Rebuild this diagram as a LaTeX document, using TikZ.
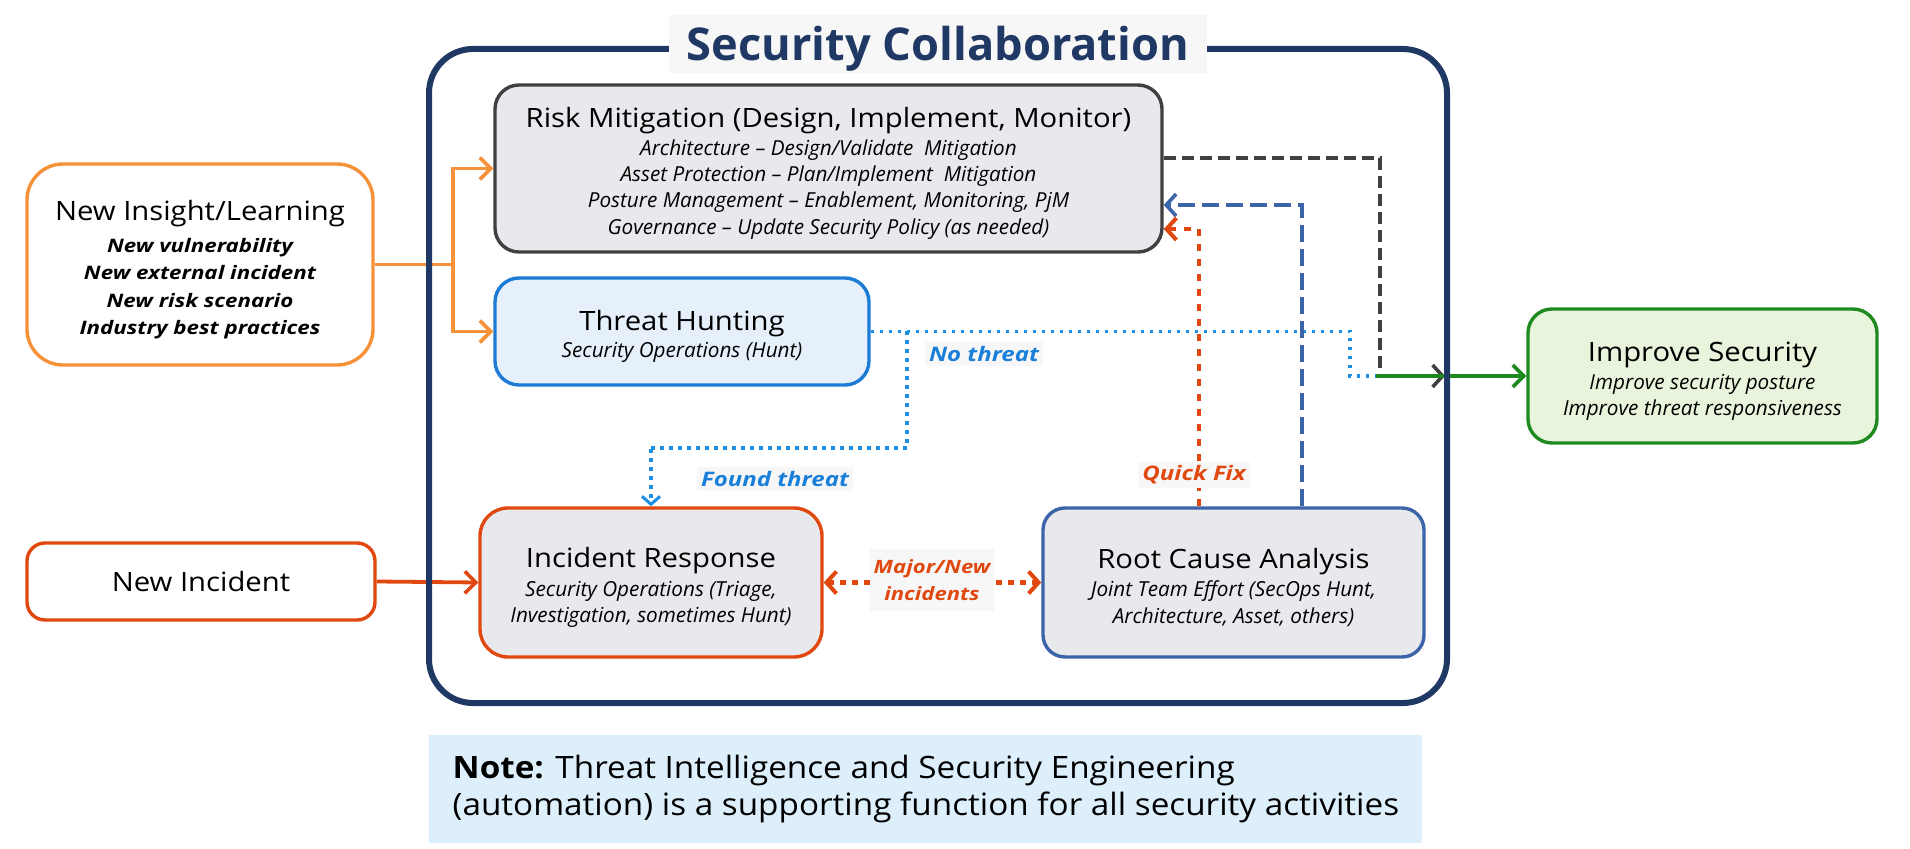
\documentclass[tikz,border=0pt]{standalone}
\usepackage{fontspec}
\setmainfont{Open Sans}
\newfontfamily\widefont{Open Sans}[FakeStretch=1.1]
\newfontfamily\itwidefont{Open Sans}[FakeStretch=1.2]
\newfontfamily\notefont{Open Sans}[FakeStretch=1.08]
\usetikzlibrary{arrows.meta,calc}
\definecolor{navy}{HTML}{203864}
\definecolor{orng}{HTML}{F7923A}
\definecolor{redo}{HTML}{E0480F}
\definecolor{hblue}{HTML}{1C7CD5}
\definecolor{hfill}{HTML}{E6F0FB}
\definecolor{dblue}{HTML}{1A8FE3}
\definecolor{lblue}{HTML}{1A7FD8}
\definecolor{rblue}{HTML}{3C64A8}
\definecolor{gfill}{HTML}{E8E9ED}
\definecolor{dgray}{HTML}{404040}
\definecolor{grn}{HTML}{1F8A1F}
\definecolor{gnfill}{HTML}{E8F5DC}
\definecolor{notefill}{HTML}{DDEFFB}
\definecolor{lblbg}{HTML}{F7F7F7}
\newcommand\bxtitle{\widefont\fontsize{13.3}{15}\selectfont\upshape\mdseries\rule{0pt}{15pt}}
\newcommand\bxsub{\fontsize{10.35}{13.2}\selectfont\itshape}
\begin{document}
\begin{tikzpicture}[x=0.5pt,y=-0.5pt,
  box/.style={draw, line width=1.7pt, align=center, inner sep=0pt, font=\bxsub},
  chev/.style={-{Straight Barb[length=5.5pt,width=11pt,line width=1.8pt]}},
  orline/.style={draw=orng, line width=1.9pt},
  hdot/.style={draw=dblue, line width=1.6pt, dash pattern=on 1.6pt off 2.9pt},
  qdot/.style={draw=redo, line width=2.2pt, dash pattern=on 3.5pt off 4pt},
  mdot/.style={draw=redo, line width=2.2pt, dash pattern=on 3pt off 3pt},
  rdash/.style={draw=rblue, line width=2pt, dash pattern=on 8.5pt off 3.5pt},
  gdash/.style={draw=dgray, line width=2pt, dash pattern=on 6pt off 3pt},
  lbl/.style={fill=lblbg, inner sep=2pt, font=\itwidefont\fontsize{10}{12.5}\selectfont\bfseries\itshape}
]
\useasboundingbox (0,0) rectangle (1910,849);

% nodes
\node[box, draw=orng, fill=white, rounded corners=18pt, minimum width=173pt, minimum height=100.5pt,
  font=\itwidefont\fontsize{9.3}{13.65}\selectfont\bfseries\itshape] (insight) at (200,264.5)
  {{\bxtitle New Insight/Learning}\\[2.5pt] New vulnerability\\ New external incident\\ New risk scenario\\ Industry best practices};

\node[box, draw=dgray, fill=gfill, rounded corners=12pt, minimum width=333.5pt, minimum height=83.5pt] (risk) at (828.5,168.5)
  {{\bxtitle Risk Mitigation (Design, Implement, Monitor)}\\[0.5pt]
   Architecture -- Design/Validate\ \ Mitigation\\
   Asset Protection -- Plan/Implement\ \ Mitigation\\
   Posture Management -- Enablement, Monitoring, PjM\\
   Governance -- Update Security Policy (as needed)};

\node[box, draw=hblue, fill=hfill, rounded corners=12pt, minimum width=187pt, minimum height=53.5pt] (hunt) at (682,331.5)
  {{\bxtitle Threat Hunting}\\[0.5pt] Security Operations (Hunt)};

\node[box, draw=grn, fill=gnfill, rounded corners=12pt, minimum width=174.5pt, minimum height=67pt] (improve) at (1702.5,376)
  {{\bxtitle Improve Security}\\[0.5pt] Improve security posture\\ Improve threat responsiveness};

\node[box, draw=redo, fill=white, rounded corners=9pt, minimum width=174pt, minimum height=38.5pt,
  font=\widefont\fontsize{13.3}{15}\selectfont] (newinc) at (201,581.5)
  {New Incident};

\node[box, draw=redo, fill=gfill, rounded corners=14pt, minimum width=171pt, minimum height=74.5pt] (ir) at (651,582.5)
  {{\bxtitle Incident Response}\\[1pt] Security Operations (Triage,\\ Investigation, sometimes Hunt)};

\node[box, draw=rblue, fill=gfill, rounded corners=11pt, minimum width=190.5pt, minimum height=74.5pt] (rca) at (1233.5,582.5)
  {{\bxtitle Root Cause Analysis}\\[1pt] Joint Team Effort (SecOps Hunt,\\ Architecture, Asset, others)};

\node[fill=notefill, anchor=north west, minimum width=496.5pt, minimum height=54pt, inner sep=0pt,
  align=left, font=\notefont\fontsize{15.4}{18.5}\selectfont] (note) at (429,735)
  {\textbf{Note:} Threat Intelligence and Security Engineering\\(automation) is a supporting function for all security activities};

% connectors
\coordinate (j) at (453,264.5);
\draw[orline] (insight.east) -- (j);
\draw[orline, chev] (j) |- (risk.west);
\draw[orline, chev] (j) |- (hunt.west);

\draw[redo, line width=1.9pt, chev] (newinc.east) -- (ir.west);

\coordinate (hb) at (907,331.5);
\coordinate (tj) at (1376,376);
\draw[hdot] (hunt.east) -- (1350,331.5) |- (tj);
\draw[hdot, -{Straight Barb[length=4pt,width=9pt,line width=1.5pt]}] (hb) |- (649,448) -| (ir.north);

\coordinate (gtip) at (1445,376);
\draw[gdash] ($(risk.east)+(0,-10)$) -| (1380,376) -- (gtip);
\draw[dgray, line width=2pt, -{Straight Barb[length=5pt,width=11pt,line width=1.8pt]}] (1425,376) -- (gtip);
\draw[grn, line width=2.2pt, chev] (tj) -- (improve.west);

\draw[rdash, -{Straight Barb[length=5pt,width=11pt,line width=1.8pt]}] ([xshift=34.25pt]rca.north) |- ([yshift=-18.25pt]risk.east);
\draw[qdot, -{Straight Barb[length=5pt,width=11pt,line width=2pt]}] ([xshift=-17.25pt]rca.north) |- ([yshift=-30.25pt]risk.east);

\draw[mdot, {Straight Barb[length=5pt,width=11pt,line width=2pt]}-{Straight Barb[length=5pt,width=11pt,line width=2pt]}] (ir.east) -- (rca.west);

% labels
\node[lbl, text=lblue] (nothreat) at (984,354) {No threat};
\node[lbl, text=lblue] (found) at (775,479) {Found threat};
\node[lbl, text=redo] (quick) at (1194,475) {Quick Fix};
\node[lbl, text=redo, align=center, inner ysep=5pt, font=\itwidefont\fontsize{9.2}{13.5}\selectfont\bfseries\itshape] (major) at (932,580) {Major/New\\incidents};

% outer frame and title
\draw[navy, line width=3pt, rounded corners=22pt] (429,49) rectangle (1447,703);
\node[fill=lblbg, minimum width=269pt, minimum height=29pt, inner sep=0pt, text=navy, text height=17pt, text depth=0pt,
  font=\fontsize{22.6}{26}\selectfont\bfseries] (title) at (938,44) {Security Collaboration};
\end{tikzpicture}
\end{document}
